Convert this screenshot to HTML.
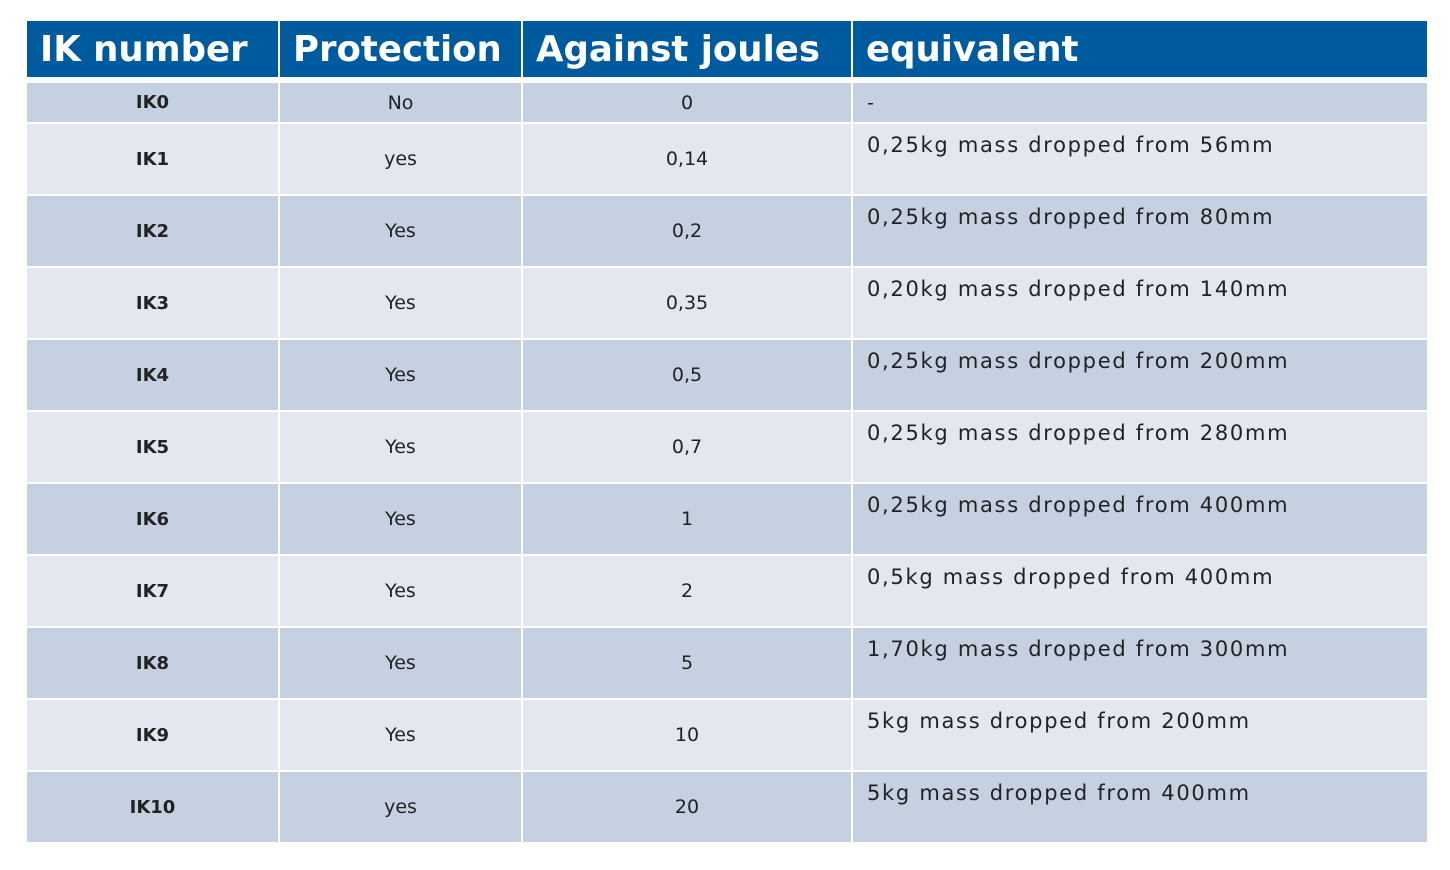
<!DOCTYPE html>
<html><head><meta charset="utf-8"><style>
body{margin:0;width:1450px;height:870px;background:#fff;position:relative;font-family:"DejaVu Sans","Liberation Sans",sans-serif;overflow:hidden}
.c{position:absolute;box-sizing:border-box;display:flex;align-items:center;font-size:19px;color:#222}
.h{background:#005a9e;color:#fff;font-weight:bold;font-size:35.5px;padding-left:13px}
.d{background:#c5d0e0}.l{background:#e3e8f0}
.ctr{justify-content:center}
.eq{align-items:flex-start;padding-left:14px;padding-top:9px;font-size:21px;letter-spacing:1.7px}
.b{font-weight:bold;font-size:18px}
</style></head><body>
<div id="t"></div>
<script>
const cols=[[27,278],[280,521],[523,851],[853,1427]];
const headers=["IK number","Protection","Against joules","equivalent"];
const ik=["IK0","IK1","IK2","IK3","IK4","IK5","IK6","IK7","IK8","IK9","IK10"];
const prot=["No","yes","Yes","Yes","Yes","Yes","Yes","Yes","Yes","Yes","yes"];
const joules=["0","0,14","0,2","0,35","0,5","0,7","1","2","5","10","20"];
const equiv=["-","0,25kg mass dropped from 56mm","0,25kg mass dropped from 80mm","0,20kg mass dropped from 140mm","0,25kg mass dropped from 200mm","0,25kg mass dropped from 280mm","0,25kg mass dropped from 400mm","0,5kg mass dropped from 400mm","1,70kg mass dropped from 300mm","5kg mass dropped from 200mm","5kg mass dropped from 400mm"];
const t=document.getElementById('t');
function cell(x0,x1,y,h,cls,txt,name){
  const e=document.createElement('div');
  e.className='c '+cls;
  e.style.left=x0+'px';e.style.width=(x1-x0)+'px';e.style.top=y+'px';e.style.height=h+'px';
  e.textContent=txt;
  
  
  t.appendChild(e);
}
headers.forEach((h,j)=>cell(cols[j][0],cols[j][1],21,56,'h',h,'header-'+j));
ik.forEach((k,i)=>{
  const y=i===0?83:124+(i-1)*72, h=i===0?39:70;
  const bg=(i%2===0)?'d':'l';
  cell(cols[0][0],cols[0][1],y,h,bg+' ctr b',k,'ik-cell-'+i);
  cell(cols[1][0],cols[1][1],y,h,bg+' ctr',prot[i],'protection-cell-'+i);
  cell(cols[2][0],cols[2][1],y,h,bg+' ctr',joules[i],'joules-cell-'+i);
  cell(cols[3][0],cols[3][1],y,h,bg+(i===0?'':' eq'),equiv[i],'equivalent-cell-'+i);
  if(i===0){t.lastChild.style.paddingLeft='14px';}
});
</script>
</body></html>
